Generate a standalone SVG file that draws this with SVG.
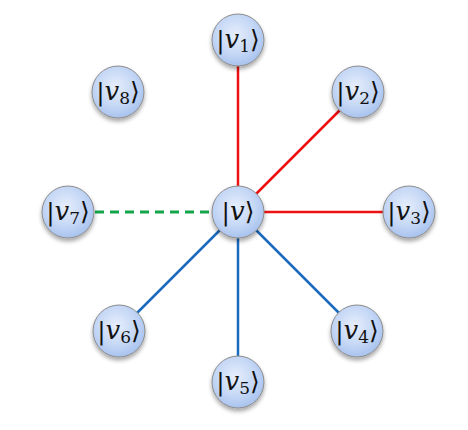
<svg xmlns="http://www.w3.org/2000/svg" width="468" height="430" viewBox="0 0 468 430">
<defs>
<radialGradient id="g" cx="0.45" cy="0.4" r="0.6">
<stop offset="0" stop-color="#e6eefb"/>
<stop offset="0.6" stop-color="#c6d8f6"/>
<stop offset="1" stop-color="#a9c3ee"/>
</radialGradient>
<filter id="sh" x="-30%" y="-30%" width="160%" height="170%">
<feGaussianBlur in="SourceAlpha" stdDeviation="2"/>
<feOffset dx="0" dy="3"/>
<feComponentTransfer><feFuncA type="linear" slope="0.35"/></feComponentTransfer>
<feMerge><feMergeNode/><feMergeNode in="SourceGraphic"/></feMerge>
</filter>
</defs>
<style>
.n{fill:url(#g);stroke:#8c8c8c;stroke-width:1;filter:url(#sh)}
.t{font-family:"DejaVu Serif",serif;font-size:25px;fill:#111;text-anchor:middle}
.i{font-style:italic;font-size:26px}
.s{font-size:17px}
.r{stroke:#ee1111;stroke-width:2.5}
.b{stroke:#1a6bbf;stroke-width:2.5}
.gr{stroke:#14a44a;stroke-width:3;stroke-dasharray:9 6}
</style>
<g id="connectors">
<line class="r" x1="238" y1="212" x2="238" y2="40"/>
<line class="r" x1="238" y1="212" x2="358" y2="92"/>
<line class="r" x1="238" y1="212" x2="409" y2="212"/>
<line class="b" x1="238" y1="212" x2="357" y2="331"/>
<line class="b" x1="238" y1="212" x2="238" y2="382"/>
<line class="b" x1="238" y1="212" x2="119" y2="331"/>
<line class="gr" x1="95" y1="212" x2="212" y2="212"/>
</g>
<g id="v1"><circle class="n" cx="238" cy="40" r="26"/><text class="t" x="238" y="48">|<tspan class="i">v</tspan><tspan class="s" dy="4">1</tspan><tspan dy="-4">⟩</tspan></text></g>
<g id="v2"><circle class="n" cx="358" cy="92" r="26"/><text class="t" x="358" y="100">|<tspan class="i">v</tspan><tspan class="s" dy="4">2</tspan><tspan dy="-4">⟩</tspan></text></g>
<g id="v3"><circle class="n" cx="409" cy="212" r="26"/><text class="t" x="409" y="220">|<tspan class="i">v</tspan><tspan class="s" dy="4">3</tspan><tspan dy="-4">⟩</tspan></text></g>
<g id="v4"><circle class="n" cx="357" cy="331" r="26"/><text class="t" x="357" y="339">|<tspan class="i">v</tspan><tspan class="s" dy="4">4</tspan><tspan dy="-4">⟩</tspan></text></g>
<g id="v5"><circle class="n" cx="238" cy="382" r="26"/><text class="t" x="238" y="390">|<tspan class="i">v</tspan><tspan class="s" dy="4">5</tspan><tspan dy="-4">⟩</tspan></text></g>
<g id="v6"><circle class="n" cx="119" cy="331" r="26"/><text class="t" x="119" y="339">|<tspan class="i">v</tspan><tspan class="s" dy="4">6</tspan><tspan dy="-4">⟩</tspan></text></g>
<g id="v7"><circle class="n" cx="68" cy="212" r="26"/><text class="t" x="68" y="220">|<tspan class="i">v</tspan><tspan class="s" dy="4">7</tspan><tspan dy="-4">⟩</tspan></text></g>
<g id="v8"><circle class="n" cx="118" cy="92" r="26"/><text class="t" x="118" y="100">|<tspan class="i">v</tspan><tspan class="s" dy="4">8</tspan><tspan dy="-4">⟩</tspan></text></g>
<g id="v"><circle class="n" cx="238" cy="212" r="26"/><text class="t" x="238" y="220">|<tspan class="i">v</tspan>⟩</text></g>
</svg>
